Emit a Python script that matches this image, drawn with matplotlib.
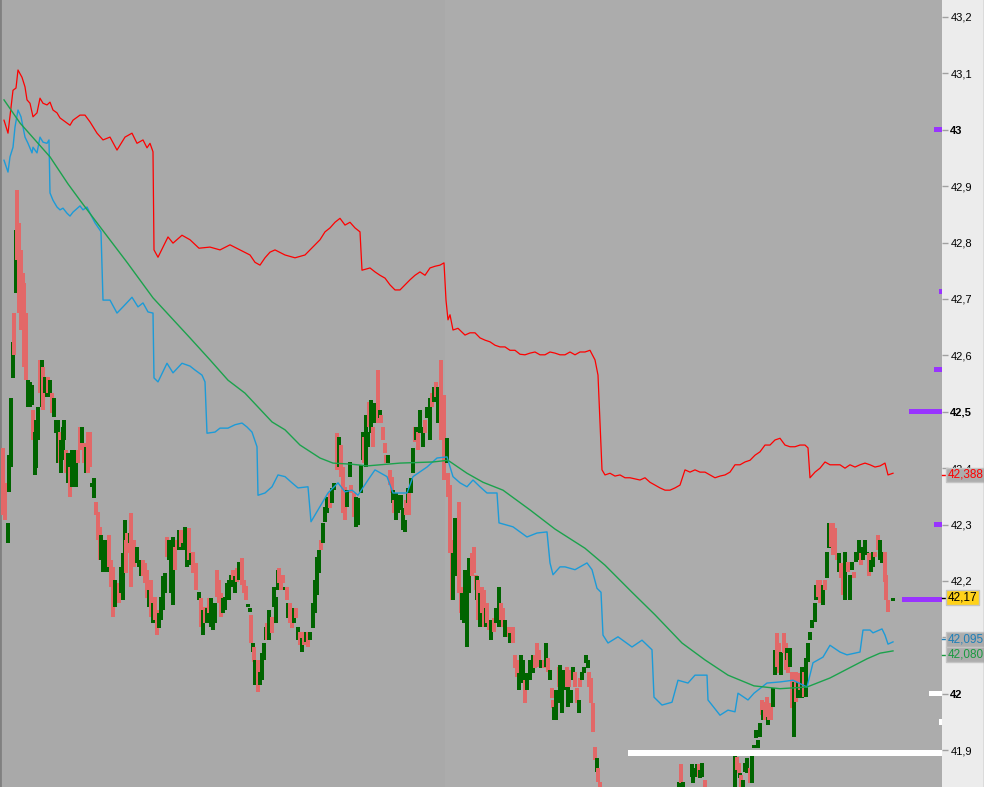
"""Intraday candles with two bands and a moving average, price scale on the right."""

import matplotlib
matplotlib.use('Agg')
import matplotlib.pyplot as plt
import matplotlib.transforms as mtransforms
from matplotlib.lines import Line2D
import numpy as np


# candle time (minutes from the left edge), open and close
bar_t = [
    3, 5, 8, 9, 11, 13, 14, 16, 17, 19,
    21, 23, 24, 26, 28, 30, 32, 33, 35, 36,
    38, 40, 42, 43, 45, 47, 48, 50, 52, 54,
    56, 58, 60, 61, 63, 64, 66, 68, 70, 72,
    74, 76, 78, 80, 82, 84, 86, 88, 90, 92,
    94, 96, 98, 100, 101, 103, 105, 107, 109, 111,
    113, 115, 117, 119, 121, 123, 125, 126, 127, 130,
    131, 134, 137, 139, 141, 143, 145, 147, 149, 151,
    153, 155, 157, 159, 161, 163, 165, 167, 169, 171,
    173, 175, 177, 179, 181, 183, 185, 187, 189,
    191, 193, 196, 199, 201, 203, 205, 207, 209, 211,
    213, 215, 217, 219, 221, 223, 225, 227, 229, 231,
    233, 235, 237, 239, 242, 244, 246, 248, 250, 251,
    253, 254, 255, 257, 258, 260, 262, 264, 266, 267,
    269, 272, 274, 276, 278, 279, 281, 283, 285, 287,
    288, 290, 292, 294, 296, 298, 300, 302, 304, 306,
    308, 310, 313, 315, 317, 319, 321, 323, 325, 327,
    330, 332, 334, 337, 339, 341, 343, 345, 347, 350,
    351, 354, 356, 358, 361, 363, 364, 366, 368, 369,
    371, 373, 374, 376, 378, 380, 381, 383, 385, 386,
    388, 390, 392, 393, 394, 396, 398, 401, 403, 405,
    406, 408, 409, 411, 413, 415, 416, 418, 420, 423,
    425, 427, 430, 432, 434, 436, 438, 441, 444, 447,
    448, 450, 452, 453, 455, 457, 459, 461, 462, 464,
    465, 467, 469, 472, 474, 476, 477, 478, 480, 482,
    484, 486, 487, 489, 491, 494, 496, 499, 501, 503,
    505, 507, 509, 510, 513, 515, 517, 519, 521, 523,
    525, 527, 530, 533, 535, 537, 539, 541, 544, 546,
    548, 550, 552, 553, 554, 556, 559, 560, 562, 564,
    567, 568, 569, 571, 573, 575, 577, 579, 580, 582,
    584, 586, 588, 589, 591, 593, 595, 597, 598, 600,
    679, 681, 683, 692, 693, 695, 697, 699, 700, 702,
    705, 735, 737, 739, 740, 741, 743, 745, 747, 750,
    752, 754, 756, 758, 760, 762, 763, 765, 767, 768,
    769, 771, 773, 775, 777, 779, 781, 784, 786, 787,
    788, 790, 792, 794, 796, 798, 800, 802, 804, 806,
    808, 810, 812, 815, 816, 818, 820, 823, 825, 827,
    829, 831, 833, 835, 837, 839, 841, 843, 845, 848,
    850, 852, 854, 856, 859, 861, 863, 865, 867, 869,
    871, 873, 875, 878, 880, 882, 885, 886, 888, 893,
]
bar_open = [
    42.436, 42.374, 42.268, 42.357, 42.402, 42.560, 42.675, 42.711, 42.893, 42.835,
    42.787, 42.746, 42.729, 42.675, 42.509, 42.509, 42.512, 42.503, 42.388, 42.400,
    42.450, 42.592, 42.509, 42.580, 42.534, 42.527, 42.562, 42.527, 42.534, 42.491,
    42.463, 42.409, 42.465, 42.392, 42.414, 42.450, 42.432, 42.374, 42.402, 42.367,
    42.374, 42.367, 42.432, 42.473, 42.445, 42.445, 42.392, 42.465, 42.465, 42.367,
    42.347, 42.340, 42.322, 42.296, 42.237, 42.216, 42.220, 42.216, 42.281, 42.237,
    42.225, 42.154, 42.161, 42.197, 42.179, 42.166, 42.250, 42.273, 42.285, 42.268,
    42.321, 42.273, 42.232, 42.225, 42.208, 42.237, 42.232, 42.220, 42.154, 42.202,
    42.126, 42.172, 42.148, 42.117, 42.131, 42.148, 42.179, 42.278, 42.237, 42.179,
    42.157, 42.260, 42.273, 42.255, 42.290, 42.255, 42.255, 42.225, 42.294,
    42.228, 42.251, 42.232, 42.166, 42.170, 42.104, 42.154, 42.126, 42.170, 42.119,
    42.113, 42.126, 42.220, 42.202, 42.179, 42.143, 42.148, 42.166, 42.166, 42.190,
    42.220, 42.179, 42.223, 42.202, 42.241, 42.202, 42.191, 42.154, 42.145, 42.139,
    42.074, 42.083, 42.015, 42.015, 42.060, 42.015, 42.024, 42.060, 42.095, 42.126,
    42.095, 42.136, 42.154, 42.126, 42.184, 42.223, 42.211, 42.211, 42.184, 42.190,
    42.134, 42.161, 42.152, 42.126, 42.152, 42.095, 42.109, 42.074, 42.109, 42.091,
    42.109, 42.095, 42.117, 42.143, 42.175, 42.215, 42.273, 42.268, 42.305, 42.321,
    42.356, 42.339, 42.361, 42.463, 42.402, 42.441, 42.402, 42.367, 42.332, 42.385,
    42.370, 42.356, 42.296, 42.299, 42.356, 42.414, 42.455, 42.402, 42.438, 42.518,
    42.463, 42.473, 42.480, 42.480, 42.574, 42.489, 42.494, 42.473, 42.445, 42.423,
    42.409, 42.397, 42.385, 42.339, 42.344, 42.308, 42.321, 42.326, 42.290, 42.287,
    42.344, 42.339, 42.356, 42.356, 42.392, 42.473, 42.450, 42.465, 42.463, 42.438,
    42.485, 42.489, 42.450, 42.534, 42.518, 42.553, 42.480, 42.592, 42.530, 42.409,
    42.392, 42.370, 42.273, 42.166, 42.208, 42.208, 42.340, 42.190, 42.131, 42.126,
    42.161, 42.083, 42.179, 42.250, 42.260, 42.211, 42.166, 42.202, 42.119, 42.190,
    42.184, 42.119, 42.161, 42.131, 42.095, 42.134, 42.126, 42.119, 42.161, 42.152,
    42.101, 42.101, 42.119, 42.090, 42.119, 42.069, 42.060, 42.007, 42.024, 42.019,
    42.024, 42.007, 42.024, 42.037, 42.069, 42.090, 42.078, 42.046, 42.060, 42.048,
    42.064, 42.024, 42.010, 41.989, 41.953, 41.953, 42.048, 41.984, 41.966, 42.007,
    42.048, 41.977, 42.042, 41.984, 42.024, 42.039, 42.010, 41.966, 42.028, 42.024,
    42.037, 42.055, 42.046, 42.039, 42.028, 41.984, 41.906, 41.861, 41.869, 41.843,
    41.829, 41.876, 41.834, 41.853, 41.842, 41.853, 41.853, 41.876, 41.851, 41.853,
    41.847, 41.834, 41.888, 41.878, 41.851, 41.856, 41.834, 41.861, 41.860, 41.869,
    41.842, 41.904, 41.922, 41.904, 41.924, 41.989, 41.953, 41.985, 41.994, 41.944,
    41.971, 41.984, 41.977, 42.033, 42.108, 42.090, 42.033, 42.108, 42.090, 42.060,
    42.073, 42.048, 42.039, 41.924, 42.039, 41.993, 42.037, 41.993, 42.039, 41.994,
    42.056, 42.095, 42.117, 42.127, 42.166, 42.202, 42.202, 42.157, 42.202, 42.206,
    42.259, 42.303, 42.303, 42.294, 42.246, 42.216, 42.232, 42.216, 42.166, 42.234,
    42.166, 42.220, 42.216, 42.234, 42.237, 42.250, 42.237, 42.251, 42.246, 42.250,
    42.216, 42.225, 42.251, 42.281, 42.237, 42.232, 42.251, 42.211, 42.166, 42.164,
]
bar_close = [
    42.317, 42.308, 42.303, 42.423, 42.525, 42.624, 42.600, 42.822, 42.769, 42.675,
    42.645, 42.645, 42.580, 42.556, 42.556, 42.553, 42.547, 42.450, 42.465, 42.485,
    42.509, 42.534, 42.592, 42.503, 42.562, 42.556, 42.534, 42.556, 42.498, 42.525,
    42.485, 42.485, 42.409, 42.450, 42.473, 42.485, 42.392, 42.427, 42.349, 42.432,
    42.402, 42.432, 42.409, 42.432, 42.473, 42.409, 42.438, 42.392, 42.402, 42.374,
    42.383, 42.317, 42.273, 42.237, 42.281, 42.273, 42.273, 42.250, 42.225, 42.190,
    42.136, 42.202, 42.184, 42.161, 42.225, 42.250, 42.308, 42.215, 42.250, 42.285,
    42.190, 42.225, 42.260, 42.232, 42.237, 42.208, 42.197, 42.170, 42.184, 42.136,
    42.161, 42.131, 42.104, 42.143, 42.172, 42.208, 42.215, 42.243, 42.273, 42.255,
    42.278, 42.220, 42.255, 42.290, 42.260, 42.268, 42.296, 42.290, 42.237,
    42.250, 42.215, 42.184, 42.181, 42.119, 42.148, 42.126, 42.152, 42.143, 42.170,
    42.161, 42.161, 42.172, 42.161, 42.136, 42.170, 42.172, 42.197, 42.202, 42.211,
    42.202, 42.208, 42.199, 42.234, 42.193, 42.179, 42.166, 42.159, 42.152, 42.090,
    42.090, 42.056, 42.060, 42.055, 42.003, 42.039, 42.073, 42.090, 42.119, 42.095,
    42.148, 42.108, 42.190, 42.172, 42.220, 42.197, 42.184, 42.197, 42.190, 42.166,
    42.161, 42.126, 42.117, 42.152, 42.134, 42.119, 42.086, 42.099, 42.086, 42.109,
    42.083, 42.109, 42.161, 42.202, 42.243, 42.255, 42.255, 42.303, 42.332, 42.349,
    42.330, 42.365, 42.374, 42.397, 42.455, 42.385, 42.321, 42.308, 42.361, 42.411,
    42.356, 42.313, 42.349, 42.347, 42.405, 42.465, 42.409, 42.494, 42.465, 42.473,
    42.521, 42.438, 42.516, 42.503, 42.480, 42.503, 42.480, 42.450, 42.427, 42.409,
    42.423, 42.370, 42.356, 42.361, 42.321, 42.356, 42.352, 42.352, 42.330, 42.308,
    42.317, 42.365, 42.317, 42.383, 42.436, 42.446, 42.473, 42.432, 42.503, 42.473,
    42.463, 42.509, 42.525, 42.509, 42.544, 42.527, 42.544, 42.450, 42.379, 42.453,
    42.349, 42.250, 42.166, 42.250, 42.312, 42.290, 42.179, 42.143, 42.179, 42.179,
    42.220, 42.215, 42.241, 42.208, 42.215, 42.184, 42.208, 42.131, 42.179, 42.143,
    42.119, 42.152, 42.126, 42.113, 42.131, 42.109, 42.152, 42.190, 42.131, 42.119,
    42.131, 42.119, 42.101, 42.108, 42.090, 42.046, 42.030, 42.037, 42.069, 42.060,
    41.984, 42.037, 42.060, 42.069, 42.046, 42.060, 42.048, 42.060, 42.046, 42.090,
    42.039, 42.042, 41.993, 41.975, 41.977, 42.007, 42.012, 42.051, 42.030, 42.042,
    42.012, 42.012, 42.012, 42.007, 42.048, 42.012, 41.984, 41.989, 42.012, 42.039,
    42.048, 42.069, 42.060, 42.012, 41.984, 41.932, 41.883, 41.886, 41.843, 41.829,
    41.843, 41.842, 41.843, 41.876, 41.860, 41.869, 41.876, 41.853, 41.865, 41.878,
    41.834, 41.895, 41.865, 41.860, 41.860, 41.834, 41.847, 41.878, 41.886, 41.842,
    41.895, 41.909, 41.936, 41.918, 41.949, 41.962, 41.971, 41.953, 41.967, 41.959,
    41.953, 41.953, 42.010, 42.078, 42.048, 42.037, 42.074, 42.073, 42.042, 42.081,
    42.037, 42.081, 41.975, 42.021, 41.985, 42.021, 42.007, 42.048, 41.994, 42.064,
    42.090, 42.109, 42.131, 42.161, 42.193, 42.172, 42.161, 42.193, 42.184, 42.251,
    42.303, 42.260, 42.246, 42.246, 42.237, 42.250, 42.206, 42.175, 42.251, 42.216,
    42.211, 42.234, 42.206, 42.251, 42.273, 42.228, 42.260, 42.273, 42.251, 42.208,
    42.237, 42.251, 42.243, 42.255, 42.273, 42.251, 42.199, 42.166, 42.145, 42.170,
]

# upper band (red)
upper_t = [
    4, 7, 8, 13, 16, 18, 22, 25, 27, 30, 33, 37, 40, 43, 47, 50, 53, 57, 60, 67,
    70, 73, 80, 85, 90, 97, 103, 110, 117, 125, 132, 137, 143, 147, 150, 153, 154, 158, 163, 168,
    173, 182, 190, 199, 210, 220, 230, 240, 250, 255, 260, 265, 270, 275, 285, 295, 305, 315, 320, 325,
    330, 335, 340, 345, 350, 355, 360, 362, 370, 375, 380, 385, 390, 395, 400, 405, 410, 415, 420, 425,
    430, 435, 440, 444, 446, 448, 450, 453, 458, 465, 470, 475, 480, 485, 490, 495, 500, 505, 510, 515,
    520, 525, 530, 535, 540, 545, 550, 555, 560, 565, 570, 575, 580, 585, 590, 595, 598, 602, 605, 610,
    615, 620, 625, 630, 640, 645, 650, 655, 660, 665, 670, 675, 680, 685, 690, 695, 700, 705, 710, 715,
    720, 725, 730, 735, 740, 745, 750, 755, 760, 765, 770, 775, 780, 785, 790, 795, 800, 805, 808, 810,
    815, 820, 825, 830, 835, 840, 845, 850, 855, 860, 865, 870, 875, 880, 885, 888, 893,
]
upper_p = [
    43.017, 43.000, 42.994, 43.070, 43.074, 43.106, 43.093, 43.076, 43.053, 43.047,
    43.023, 43.030, 43.056, 43.047, 43.044, 43.049, 43.035, 43.030, 43.021, 43.012,
    43.008, 43.017, 43.026, 43.026, 43.014, 42.994, 42.982, 42.987, 42.964, 42.987,
    42.994, 42.976, 42.982, 42.968, 42.976, 42.961, 42.787, 42.774, 42.792, 42.810,
    42.799, 42.813, 42.805, 42.790, 42.792, 42.787, 42.796, 42.787, 42.778, 42.765,
    42.760, 42.773, 42.783, 42.787, 42.778, 42.773, 42.778, 42.796, 42.805, 42.819,
    42.826, 42.836, 42.843, 42.831, 42.836, 42.826, 42.819, 42.751, 42.755, 42.748,
    42.742, 42.737, 42.725, 42.716, 42.716, 42.725, 42.734, 42.742, 42.748, 42.742,
    42.755, 42.758, 42.760, 42.764, 42.698, 42.663, 42.672, 42.645, 42.648, 42.636,
    42.640, 42.640, 42.631, 42.627, 42.624, 42.618, 42.615, 42.615, 42.609, 42.609,
    42.602, 42.601, 42.604, 42.606, 42.601, 42.601, 42.606, 42.604, 42.601, 42.601,
    42.606, 42.601, 42.606, 42.606, 42.609, 42.592, 42.565, 42.397, 42.388, 42.391,
    42.386, 42.388, 42.383, 42.383, 42.379, 42.383, 42.375, 42.370, 42.365, 42.361,
    42.361, 42.365, 42.370, 42.397, 42.393, 42.397, 42.393, 42.393, 42.388, 42.383,
    42.386, 42.388, 42.393, 42.406, 42.406, 42.411, 42.414, 42.423, 42.429, 42.441,
    42.441, 42.450, 42.453, 42.441, 42.438, 42.438, 42.441, 42.441, 42.436, 42.383,
    42.393, 42.400, 42.411, 42.406, 42.406, 42.406, 42.400, 42.406, 42.402, 42.406,
    42.409, 42.406, 42.402, 42.404, 42.409, 42.388, 42.391,
]

# lower band (blue)
lower_t = [
    4, 8, 10, 13, 15, 18, 21, 23, 25, 28, 32, 33, 37, 40, 43, 47, 49, 50, 53, 57,
    60, 63, 67, 70, 73, 80, 83, 87, 90, 95, 100, 101, 103, 110, 117, 123, 132, 138, 143, 148,
    153, 154, 158, 167, 173, 182, 190, 195, 202, 205, 207, 215, 220, 228, 235, 242, 247, 252, 257, 258,
    265, 272, 278, 285, 292, 298, 308, 311, 318, 328, 338, 345, 352, 358, 368, 375, 387, 393, 407, 413,
    427, 437, 447, 453, 460, 467, 473, 480, 487, 497, 499, 513, 527, 537, 547, 550, 553, 560, 565, 575,
    587, 592, 597, 601, 603, 608, 618, 632, 642, 652, 654, 662, 672, 678, 688, 695, 707, 708, 720, 728,
    735, 738, 748, 754, 767, 780, 793, 807, 813, 823, 830, 840, 847, 860, 863, 870, 873, 882, 885, 888,
    893,
]
lower_p = [
    42.946, 42.925, 42.952, 42.969, 43.005, 43.035, 43.023, 43.005, 42.987, 42.976,
    42.959, 42.969, 42.959, 42.987, 42.978, 42.976, 42.982, 42.888, 42.875, 42.863,
    42.858, 42.861, 42.852, 42.847, 42.854, 42.865, 42.858, 42.863, 42.852, 42.835,
    42.822, 42.819, 42.698, 42.698, 42.675, 42.686, 42.703, 42.686, 42.693, 42.677,
    42.675, 42.560, 42.553, 42.586, 42.569, 42.586, 42.581, 42.574, 42.565, 42.553,
    42.462, 42.464, 42.471, 42.471, 42.477, 42.480, 42.473, 42.464, 42.438, 42.352,
    42.356, 42.367, 42.388, 42.385, 42.374, 42.365, 42.367, 42.305, 42.326, 42.356,
    42.374, 42.358, 42.361, 42.352, 42.379, 42.397, 42.385, 42.356, 42.356, 42.385,
    42.402, 42.418, 42.420, 42.385, 42.374, 42.367, 42.379, 42.367, 42.356, 42.356,
    42.303, 42.296, 42.278, 42.285, 42.287, 42.232, 42.211, 42.225, 42.225, 42.220,
    42.232, 42.220, 42.187, 42.180, 42.104, 42.090, 42.101, 42.083, 42.095, 42.078,
    41.994, 41.980, 41.985, 42.024, 42.019, 42.033, 42.033, 41.989, 41.962, 41.971,
    41.968, 42.001, 41.989, 42.001, 42.019, 42.021, 42.024, 42.012, 42.055, 42.065,
    42.086, 42.074, 42.069, 42.074, 42.113, 42.113, 42.108, 42.115, 42.104, 42.088,
    42.092,
]

# moving average (green)
ma_t = [
    4, 20, 50, 68, 80, 100, 127, 153, 190, 210, 228, 245, 272, 285, 300, 320, 333, 352, 367, 400,
    433, 448, 467, 483, 503, 530, 555, 585, 605, 632, 655, 682, 705, 728, 754, 780, 807, 830, 867, 880,
    893,
]
ma_p = [
    43.053, 43.012, 42.952, 42.904, 42.875, 42.828, 42.765, 42.702, 42.631, 42.592,
    42.556, 42.533, 42.482, 42.468, 42.441, 42.418, 42.409, 42.407, 42.404, 42.409,
    42.411, 42.414, 42.391, 42.375, 42.361, 42.326, 42.292, 42.258, 42.228, 42.180,
    42.140, 42.090, 42.060, 42.033, 42.014, 42.009, 42.012, 42.028, 42.062, 42.072,
    42.076,
]

# marks on the right edge of the price area
profile_p = [43.000, 42.713, 42.575, 42.501, 42.300, 42.167]
profile_len = [8, 3, 8, 33, 8, 40]
level_p = [42.000, 41.950, 41.895]
level_len = [13, 3, 314]

tick_p = [41.9, 42.0, 42.1, 42.2, 42.3, 42.4, 42.5, 42.6, 42.7, 42.8, 42.9, 43.0, 43.1, 43.2]
tick_txt = ['41,9', '42', '42,1', '42,2', '42,3', '42,4', '42,5', '42,6', '42,7', '42,8',
            '42,9', '43', '43,1', '43,2']
bold_txt = ['42', '42,5', '43']

# price tags: value, text, box colour, text colour; the last one is pushed down
# a few pixels so it sits under the blue one, as on the terminal
tags = [
    (42.388, '42,388', '#adadad', '#ff0000'),
    (42.170, '42,17', '#ffd21a', '#000000'),
    (42.095, '42,095', '#adadad', '#1f7fb8'),
    (42.080, '42,080', '#adadad', '#1a9a40'),
]
tag_shift_px = [0, 0, 1, -6]

t_max = 942
y_lo, y_hi = 41.8347, 43.2301


def main():
    plt.rcParams['font.family'] = ['Liberation Sans', 'DejaVu Sans']

    fig = plt.figure(figsize=(9.84, 7.87), dpi=100, facecolor='#ececec')
    ax = fig.add_axes([0, 0, t_max / 984, 1])
    ax.set_facecolor('#acacac')
    ax.axvspan(0, 445, color='#a9a9a9', lw=0, zorder=0)

    t = np.array(bar_t, dtype=float)
    o = np.array(bar_open)
    c = np.array(bar_close)
    assert len(t) == len(o) == len(c)
    up = c >= o
    colours = np.where(up, '#006400', '#e26868')
    body = np.maximum(np.abs(c - o), 0.004)
    ax.bar(t, body, bottom=np.minimum(o, c), width=3.4, color=colours,
           linewidth=0, antialiased=False, zorder=3)

    ax.plot(upper_t, upper_p, color='#ff0000', lw=0.9, zorder=4)
    ax.plot(lower_t, lower_p, color='#1c9bd8', lw=1.0, zorder=4)
    ax.plot(ma_t, ma_p, color='#1ba24c', lw=1.0, zorder=4)

    ax.barh(profile_p, profile_len, left=t_max - np.array(profile_len), height=0.009,
            color='#9933ff', lw=0, zorder=5)
    ax.barh(level_p, level_len, left=t_max - np.array(level_len), height=0.009,
            color='#ffffff', lw=0, zorder=5)

    ax.set_xlim(0, t_max)
    ax.set_ylim(y_lo, y_hi)
    ax.set_xticks([])
    ax.yaxis.tick_right()
    ax.set_yticks(tick_p)
    ax.set_yticklabels(tick_txt)
    ax.tick_params(axis='y', length=4, width=1, color='#a0a0a0', pad=2,
                   labelsize=8, labelcolor='black')
    for lab in ax.get_yticklabels():
        if lab.get_text() in bold_txt:
            lab.set_fontweight('bold')

    for side in ('top', 'right', 'bottom'):
        ax.spines[side].set_visible(False)
    ax.spines['left'].set_color('#808080')
    ax.spines['left'].set_linewidth(2)

    blend = mtransforms.blended_transform_factory(ax.transAxes, ax.transData)
    for (price, txt, fc, tc), shift in zip(tags, tag_shift_px):
        off = mtransforms.offset_copy(blend, fig=fig, y=shift, units='dots')
        ax.plot([1, 1 + 4 / t_max], [price, price], transform=off, color=tc,
                lw=1, clip_on=False, zorder=9)
        ax.text(1 + 5.5 / t_max, price, txt, transform=off, ha='left', va='center',
                fontsize=8.5, color=tc, zorder=10, clip_on=False,
                bbox=dict(boxstyle='square,pad=0.12', fc=fc, ec='#c4c4c4', lw=1))

    fig.add_artist(Line2D([0.9995, 0.9995], [0, 1], transform=fig.transFigure,
                          color='#9a9a9a', lw=1))

    fig.savefig('out.png', dpi=100, facecolor=fig.get_facecolor())


if __name__ == '__main__':
    main()
